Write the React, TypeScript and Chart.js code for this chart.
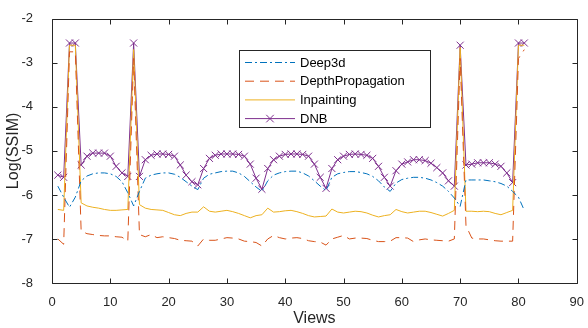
import React, { useEffect, useRef } from "react";
import { Chart, registerables } from "chart.js";

Chart.register(...registerables);

const VIEWS = [
  1, 2, 3, 4, 5, 6, 7, 8, 9, 10, 11, 12, 13, 14, 15, 16, 17, 18, 19, 20,
  21, 22, 23, 24, 25, 26, 27, 28, 29, 30, 31, 32, 33, 34, 35, 36, 37, 38, 39, 40,
  41, 42, 43, 44, 45, 46, 47, 48, 49, 50, 51, 52, 53, 54, 55, 56, 57, 58, 59, 60,
  61, 62, 63, 64, 65, 66, 67, 68, 69, 70, 71, 72, 73, 74, 75, 76, 77, 78, 79, 80, 81,
];

const DEEP3D = [
  -5.8, -6.05, -6.28, -6.05, -5.68, -5.57, -5.52, -5.5, -5.5, -5.52,
  -5.58, -5.7, -5.95, -6.25, -5.92, -5.62, -5.55, -5.52, -5.5, -5.5,
  -5.53, -5.6, -5.7, -5.8, -5.88, -5.62, -5.53, -5.5, -5.47, -5.46,
  -5.46, -5.5, -5.58, -5.7, -5.82, -5.92, -5.68, -5.55, -5.5, -5.47,
  -5.46, -5.46, -5.5, -5.57, -5.68, -5.8, -5.9, -5.6, -5.52, -5.49,
  -5.47, -5.47, -5.49, -5.52, -5.58, -5.68, -5.82, -5.92, -5.73, -5.65,
  -5.62, -5.6, -5.6, -5.62, -5.66, -5.72, -5.8, -5.92, -6.07, -6.26,
  -5.66, -5.66, -5.66, -5.66, -5.68, -5.7, -5.74, -5.8, -5.92, -6.05, -6.35,
];

const DEPTH_PROPAGATION = [
  -7.0, -7.12, -2.75, -2.75, -6.82, -6.88, -6.9, -6.92, -6.93, -6.93,
  -6.95, -6.96, -7.05, -2.9, -6.9, -6.95, -6.9, -6.97, -6.95, -6.97,
  -6.99, -7.03, -7.04, -7.05, -7.16, -7.0, -7.03, -7.03, -7.0, -6.97,
  -6.98, -7.0, -7.05, -7.06, -7.08, -7.16, -7.0, -6.92, -6.97, -7.0,
  -6.98, -6.97, -6.99, -7.04, -7.06, -7.07, -7.14, -7.0, -6.96, -6.92,
  -7.0, -6.98, -6.98, -6.99, -7.03, -7.06, -7.06, -7.05, -6.97, -6.97,
  -6.98, -7.06, -7.02, -7.0, -7.02, -7.03, -7.04, -7.05, -7.0, -2.9,
  -6.7, -6.98, -7.0, -7.0, -7.02, -7.04, -7.05, -7.05, -7.05, -2.9, -2.7,
];

const INPAINTING = [
  -6.33, -6.35, -2.6, -2.6, -6.18, -6.25, -6.28, -6.3, -6.33, -6.35,
  -6.35, -6.34, -6.33, -2.7, -6.22, -6.3, -6.33, -6.34, -6.35, -6.4,
  -6.45, -6.47, -6.42, -6.39, -6.39, -6.27, -6.37, -6.39, -6.37, -6.35,
  -6.38, -6.42, -6.47, -6.52, -6.47, -6.45, -6.3, -6.39, -6.38, -6.36,
  -6.35, -6.38, -6.42, -6.47, -6.5, -6.49, -6.48, -6.32, -6.39, -6.41,
  -6.39, -6.37, -6.38, -6.41, -6.46, -6.5, -6.47, -6.45, -6.33, -6.38,
  -6.41, -6.39, -6.37, -6.37, -6.4, -6.44, -6.48, -6.42, -6.35, -2.65,
  -6.37, -6.37, -6.38, -6.37, -6.38, -6.42, -6.45, -6.4, -6.35, -2.6, -2.6,
];

const DNB = [
  -5.55, -5.6, -2.55, -2.55, -5.32, -5.12, -5.05, -5.05, -5.05, -5.12,
  -5.35, -5.5, -5.58, -2.55, -5.58, -5.2, -5.1, -5.07, -5.07, -5.08,
  -5.12, -5.32, -5.55, -5.7, -5.77, -5.4, -5.17, -5.1, -5.07, -5.07,
  -5.07, -5.08, -5.12, -5.3, -5.62, -5.87, -5.4, -5.2, -5.12, -5.08,
  -5.07, -5.07, -5.08, -5.12, -5.3, -5.6, -5.85, -5.4, -5.2, -5.12,
  -5.08, -5.07, -5.08, -5.1, -5.17, -5.35, -5.6, -5.8, -5.45, -5.3,
  -5.25, -5.2, -5.2, -5.22, -5.28, -5.38, -5.5, -5.68, -5.8, -2.6,
  -5.32, -5.3, -5.27, -5.27, -5.27, -5.3, -5.35, -5.5, -5.72, -2.55, -2.55,
];

const SERIES_LABELS = ["Deep3d", "DepthPropagation", "Inpainting", "DNB"];
const X_TICKS = [0, 10, 20, 30, 40, 50, 60, 70, 80, 90];
const Y_TICKS = [-8, -7, -6, -5, -4, -3, -2];

const AXIS_COLOR = "#262626";
const FONT = "'Liberation Sans', Arial, Helvetica, sans-serif";

const toPoints = (ys: number[]) => VIEWS.map((x, i) => ({ x, y: ys[i] }));

const framePlugin = {
  id: "matlabFrame",
  afterDraw(chart: any) {
    const { ctx, chartArea: a, scales } = chart;
    const xs = scales.x;
    const ys = scales.y;
    ctx.save();
    ctx.strokeStyle = AXIS_COLOR;
    ctx.lineWidth = 1;
    const L = Math.round(a.left) + 0.5;
    const R = Math.round(a.right) + 0.5;
    const T = Math.round(a.top) + 0.5;
    const B = Math.round(a.bottom) + 0.5;
    ctx.beginPath();
    ctx.rect(L, T, R - L, B - T);
    ctx.stroke();
    const tl = 5;
    ctx.beginPath();
    X_TICKS.forEach((v) => {
      const px = Math.round(xs.getPixelForValue(v)) + 0.5;
      ctx.moveTo(px, B);
      ctx.lineTo(px, B - tl);
      ctx.moveTo(px, T);
      ctx.lineTo(px, T + tl);
    });
    Y_TICKS.forEach((v) => {
      const py = Math.round(ys.getPixelForValue(v)) + 0.5;
      ctx.moveTo(L, py);
      ctx.lineTo(L + tl, py);
      ctx.moveTo(R, py);
      ctx.lineTo(R - tl, py);
    });
    ctx.stroke();

    // legend box
    const bx = 239.5, by = 50.5, bw = 191, bh = 77;
    ctx.fillStyle = "#ffffff";
    ctx.fillRect(bx, by, bw, bh);
    ctx.strokeStyle = AXIS_COLOR;
    ctx.strokeRect(bx, by, bw, bh);
    ctx.font = `13px ${FONT}`;
    ctx.textBaseline = "middle";
    ctx.textAlign = "left";
    chart.data.datasets.forEach((ds: any, i: number) => {
      const y = 62.5 + i * 18.7;
      ctx.save();
      ctx.strokeStyle = ds.borderColor;
      ctx.lineWidth = 1;
      ctx.setLineDash(ds.borderDash || []);
      ctx.beginPath();
      ctx.moveTo(245, y);
      ctx.lineTo(295, y);
      ctx.stroke();
      ctx.setLineDash([]);
      if (ds.pointRadius > 0) {
        const r = ds.pointRadius * 0.75;
        ctx.beginPath();
        ctx.moveTo(270 - r, y - r);
        ctx.lineTo(270 + r, y + r);
        ctx.moveTo(270 - r, y + r);
        ctx.lineTo(270 + r, y - r);
        ctx.stroke();
      }
      ctx.restore();
      ctx.fillStyle = "#000000";
      ctx.fillText(ds.label, 300, y + 0.5);
    });
    ctx.restore();
  },
};

export default function App() {
  const ref = useRef<HTMLCanvasElement | null>(null);

  useEffect(() => {
    if (!ref.current) return;
    Chart.defaults.font.family = FONT;
    const chart = new Chart(ref.current, {
      type: "line",
      data: {
        datasets: [
          {
            label: SERIES_LABELS[0],
            data: toPoints(DEEP3D),
            borderColor: "#0072BD",
            borderWidth: 1,
            borderDash: [7, 3, 2, 3],
            pointRadius: 0,
            tension: 0,
            fill: false,
          },
          {
            label: SERIES_LABELS[1],
            data: toPoints(DEPTH_PROPAGATION),
            borderColor: "#D95319",
            borderWidth: 1,
            borderDash: [9, 6],
            pointRadius: 0,
            tension: 0,
            fill: false,
          },
          {
            label: SERIES_LABELS[2],
            data: toPoints(INPAINTING),
            borderColor: "#EDB120",
            borderWidth: 1,
            pointRadius: 0,
            tension: 0,
            fill: false,
          },
          {
            label: SERIES_LABELS[3],
            data: toPoints(DNB),
            borderColor: "#7E2F8E",
            backgroundColor: "#7E2F8E",
            borderWidth: 1,
            pointStyle: "crossRot",
            pointRadius: 5,
            pointBorderWidth: 1,
            pointBorderColor: "#7E2F8E",
            tension: 0,
            fill: false,
          },
        ],
      },
      options: {
        responsive: false,
        animation: false,
        events: [],
        layout: { padding: { top: 16, right: 7, left: 0, bottom: 0 } },
        plugins: {
          legend: { display: false },
          tooltip: { enabled: false },
        },
        scales: {
          x: {
            type: "linear",
            min: 0,
            max: 90,
            afterFit: (s: any) => {
              s.height = 45;
            },
            afterBuildTicks: (s: any) => {
              s.ticks = X_TICKS.map((v) => ({ value: v }));
            },
            grid: { display: false },
            border: { display: false },
            ticks: {
              padding: 4,
              color: AXIS_COLOR,
              font: { size: 13, family: FONT },
              maxRotation: 0,
              autoSkip: false,
            },
            title: {
              display: true,
              text: "Views",
              color: AXIS_COLOR,
              font: { size: 16, family: FONT },
              padding: { top: 0, bottom: 0 },
            },
          },
          y: {
            type: "linear",
            min: -8,
            max: -2,
            afterFit: (s: any) => {
              s.width = 52;
            },
            afterBuildTicks: (s: any) => {
              s.ticks = Y_TICKS.map((v) => ({ value: v }));
            },
            grid: { display: false },
            border: { display: false },
            ticks: {
              padding: 11,
              color: AXIS_COLOR,
              font: { size: 13, family: FONT },
              autoSkip: false,
            },
            title: {
              display: true,
              text: "Log(SSIM)",
              color: AXIS_COLOR,
              font: { size: 16, family: FONT },
              padding: { top: 4, bottom: 0 },
            },
          },
        },
      },
      plugins: [framePlugin],
    });
    return () => chart.destroy();
  }, []);

  return (
    <div style={{ position: "fixed", left: 0, top: 0, width: 588, height: 328, background: "#fff" }}>
      <canvas ref={ref} width={588} height={328} style={{ display: "block", width: 588, height: 328 }} />
    </div>
  );
}
